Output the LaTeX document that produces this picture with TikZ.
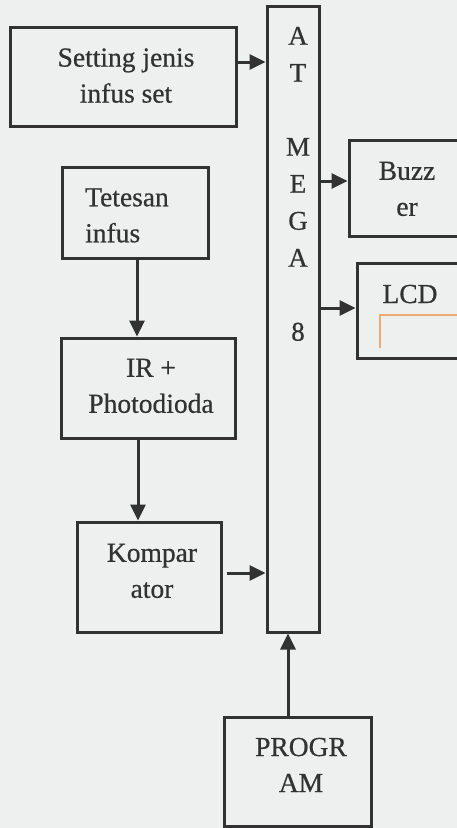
\documentclass[tikz,border=0pt]{standalone}
\usepackage{fontspec}
\setmainfont{Liberation Serif}
\newfontfamily\scanfont{Liberation Serif}[FakeBold=0.6]
\usetikzlibrary{arrows.meta}
\definecolor{ink}{RGB}{50,50,50}
\definecolor{bg}{RGB}{238,240,240}
\definecolor{lcdline}{RGB}{240,170,115}
\begin{document}
\begin{tikzpicture}[x=1pt,y=-1pt,
  box/.style={draw=ink,line width=3pt,rectangle,inner sep=0pt},
  txt/.style={text=ink,font=\scanfont\fontsize{27.5}{36}\selectfont,inner sep=0pt,align=center},
  arr/.style={draw=ink,line width=3pt,-{Triangle[length=16pt,width=15pt]}}]
\useasboundingbox (0,0) rectangle (457,828);
\fill[bg] (0,0) rectangle (457,828);
\begin{scope}
\clip (0,0) rectangle (457,828);
% boxes
\node[box,minimum width=226pt,minimum height=99pt] (set) at (123,76.5) {};
\node[box,minimum width=52pt,minimum height=626pt] (atm) at (293,319) {};
\node[box,minimum width=116pt,minimum height=96pt] (buz) at (407,188) {};
\node[box,minimum width=106pt,minimum height=95pt] (lcd) at (410,310.5) {};
\node[box,minimum width=146pt,minimum height=91pt] (tet) at (135,212.5) {};
\node[box,minimum width=174pt,minimum height=100pt] (ir) at (148,388) {};
\node[box,minimum width=144pt,minimum height=110pt] (kom) at (149,577) {};
\node[box,minimum width=147pt,minimum height=109pt] (prog) at (297.5,771.5) {};
% texts
\node[txt] (setT) at (126,75.6) {Setting jenis\\infus set};
\node[txt,align=left,anchor=west] (tetT) at (85,215.4) {Tetesan\\infus};
\node[txt] (buzT) at (407,188.9) {Buzz\\er};
\node[txt,anchor=base] (lcdT) at (410,303) {LCD};
\node[txt] (irT) at (151,385.9) {IR +\\Photodioda};
\node[txt] (komT) at (152,570.9) {Kompar\\ator};
\node[txt] (progT) at (301,764.9) {PROGR\\AM};
\node[txt,font=\scanfont\fontsize{27}{37}\selectfont] (atmT) at (298,183.9) {A\\T\\[37pt]M\\E\\G\\A\\[37pt]8};
% orange mark inside LCD
\draw[lcdline,line width=1.6pt] (380,348) -- (380,315) -- (470,315);
% connectors
\draw[arr] ([yshift=14.5pt]set.east) -- ([yshift=14.5pt]set.east -| atm.west);
\draw[arr] ([yshift=7pt]buz.west -| atm.east) -- ([yshift=7pt]buz.west);
\draw[arr] ([yshift=2.5pt]lcd.west -| atm.east) -- ([yshift=2.5pt]lcd.west);
\draw[arr] ([xshift=2pt]tet.south) -- ([xshift=2pt]tet.south |- ir.north);
\draw[arr] ([xshift=-10pt]ir.south) -- ([xshift=-10pt]ir.south |- kom.north);
\draw[arr] ([xshift=4pt,yshift=4pt]kom.east) -- ([yshift=4pt]kom.east -| atm.west);
\draw[arr] ([xshift=-9.5pt]prog.north) -- ([xshift=-9.5pt]prog.north |- atm.south);
\end{scope}
\end{tikzpicture}
\end{document}
